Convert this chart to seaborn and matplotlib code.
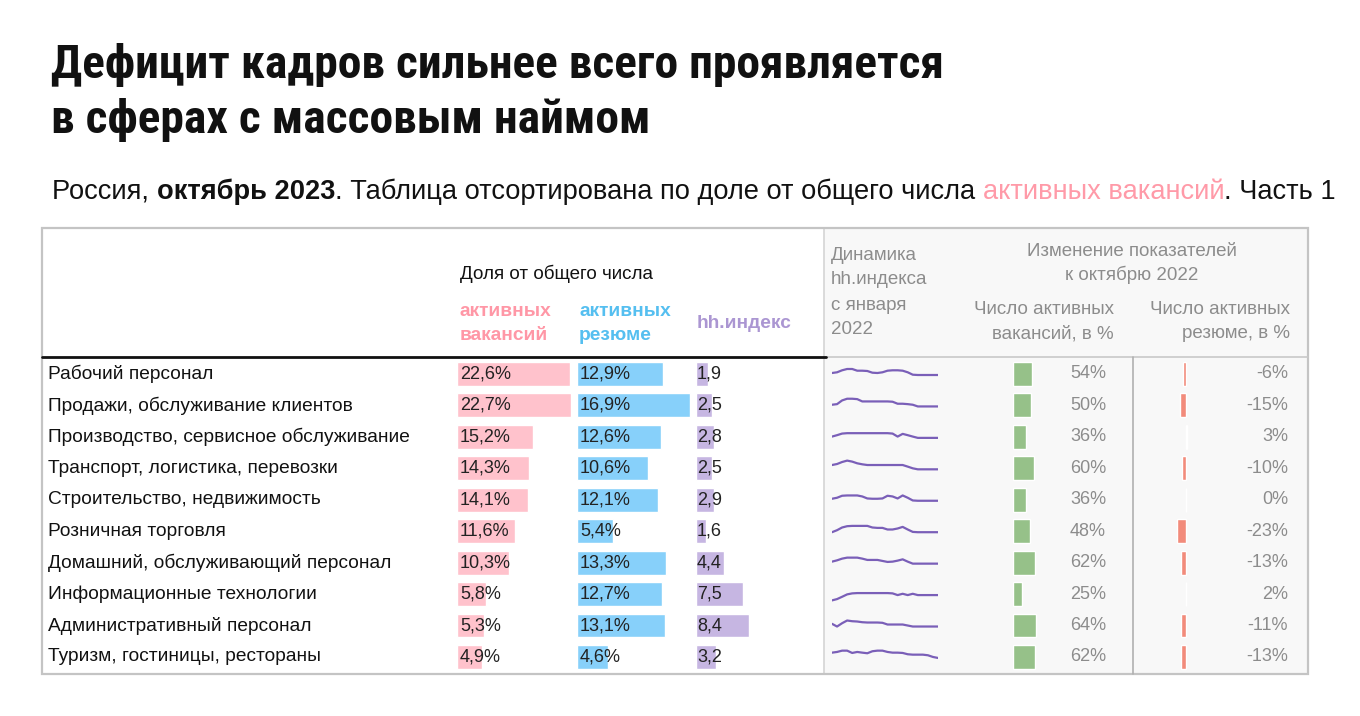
import numpy as np
import pandas as pd
import matplotlib
matplotlib.use('Agg')
import matplotlib.pyplot as plt
import seaborn as sns
from matplotlib.patches import Rectangle

# ---- data ----
sectors = ['Рабочий персонал', 'Продажи, обслуживание клиентов', 'Производство, сервисное обслуживание',
           'Транспорт, логистика, перевозки', 'Строительство, недвижимость', 'Розничная торговля',
           'Домашний, обслуживающий персонал', 'Информационные технологии', 'Административный персонал',
           'Туризм, гостиницы, рестораны']
vac_share = [22.6, 22.7, 15.2, 14.3, 14.1, 11.6, 10.3, 5.8, 5.3, 4.9]
res_share = [12.9, 16.9, 12.6, 10.6, 12.1, 5.4, 13.3, 12.7, 13.1, 4.6]
hh_index = [1.9, 2.5, 2.8, 2.5, 2.9, 1.6, 4.4, 7.5, 8.4, 3.2]
vac_change = [54, 50, 36, 60, 36, 48, 62, 25, 64, 62]
res_change = [-6, -15, 3, -10, 0, -23, -13, 2, -11, -13]

# hh.index trend Jan 2022 - Oct 2023, relative level
hh_trend = [
    [2, 2.7, 4.7, 6, 6, 4.3, 4.3, 4, 2.3, 2, 2.7, 4.3, 4.7, 4.7, 4.3, 2.7, 0.3, 0, 0, 0, 0, 0],
    [1.7, 2.3, 6, 7.7, 7.7, 7.3, 5, 5, 5, 5, 5, 5, 4.7, 2.7, 2.7, 2.3, 1.7, 0, 0, 0, 0, 0],
    [1.3, 2.7, 4.3, 4.7, 4.7, 4.7, 4.7, 4.7, 4.7, 4.7, 4.7, 4.7, 4.3, 1.3, 4, 2.7, 1.3, 0, 0, 0, 0, 0],
    [4.3, 5.3, 7.3, 8.7, 7.7, 6, 5, 4.3, 4.3, 4.3, 4.3, 4.3, 4.3, 4.3, 4.3, 2.7, 1, 0, 0, 0, 0, 0],
    [2, 3, 5, 5.3, 5.3, 5.3, 4.3, 2.3, 2, 2, 2.3, 5, 4.3, 2.3, 5.3, 3, 0.3, 0, 0, 0, 0, 0],
    [0, 2, 4.7, 6, 6.3, 6.3, 6.3, 6.3, 4.7, 4.3, 4.3, 2.7, 2.7, 3.7, 5.3, 2.7, 0.3, 0, 0, 0, 0, 0],
    [2, 3.3, 5, 6, 6, 6, 5, 3.7, 3.7, 3.7, 2.7, 1.7, 2, 3, 4.3, 2, 0, 0, 0, 0, 0, 0],
    [-5.3, -4, -1.7, 0.7, 1.7, 2, 2, 2, 2, 2, 2, 2, 1.7, 0, 1.3, 0, 1.3, 0, 0, 0, 0, 0],
    [2.7, 0, 3.3, 6, 5.3, 5, 4.3, 4, 4, 4, 3.7, 2, 2, 2, 2, 1, 0, 0, 0, 0, 0, 0],
    [5.3, 6, 7.3, 7.3, 5, 6, 5.3, 4.7, 6.7, 7.3, 7.3, 6, 5.3, 5.3, 5, 3.7, 3.3, 3.3, 3.3, 2.7, 1, 0],
]

df = pd.DataFrame({'sector': sectors, 'vac': vac_share, 'res': res_share, 'hh': hh_index,
                   'dvac': vac_change, 'dres': res_change})

# ---- layout ----
W, H = 1360, 716
ROW0, PITCH = 374, 31.44
TOP, BOT = ROW0 - PITCH / 2, ROW0 + 9.5 * PITCH
FONT = ['Liberation Sans', 'DejaVu Sans']
GRAY = '#8c8c8c'

sns.set_theme(style='white')
plt.rcParams['font.family'] = FONT

fig = plt.figure(figsize=(W / 100, H / 100), dpi=100)


def rect(x0, y0, x1, y1):
    return [x0 / W, 1 - y1 / H, (x1 - x0) / W, (y1 - y0) / H]


bg = fig.add_axes([0, 0, 1, 1], zorder=0)
bg.set_xlim(0, W)
bg.set_ylim(H, 0)
bg.axis('off')

# title
tfont = ['Roboto Condensed', 'Liberation Sans Narrow', 'Liberation Sans']
bg.text(51, 78, 'Дефицит кадров сильнее всего проявляется', fontsize=34.2, fontweight='bold',
        family=tfont, color='#111111', va='baseline')
bg.text(51, 133, 'в сферах с массовым наймом', fontsize=34.2, fontweight='bold',
        family=tfont, color='#111111', va='baseline')

# subtitle in coloured / bold pieces
pieces = [('Россия, ', 'normal', '#111111'), ('октябрь 2023', 'bold', '#111111'),
          ('. Таблица отсортирована по доле от общего числа ', 'normal', '#111111'),
          ('активных вакансий', 'normal', '#ff9aa8'), ('. Часть 1', 'normal', '#111111')]
renderer = fig.canvas.get_renderer()
x = 52
for txt, wt, col in pieces:
    t = bg.text(x, 199, txt, fontsize=19.6, fontweight=wt, color=col, va='baseline')
    x = t.get_window_extent(renderer).x1

# table frame
bg.add_patch(Rectangle((824, 228), 1308 - 824, 674 - 228, facecolor='#f8f8f8', edgecolor='#d4d4d4', lw=1.2))
bg.add_patch(Rectangle((42, 228), 1308 - 42, 674 - 228, facecolor='none', edgecolor='#c4c4c4', lw=1.6))
bg.plot([824, 1308], [357, 357], color='#c8c8c8', lw=1.2)
bg.plot([42, 826], [357, 357], color='#111111', lw=2)
bg.plot([1133, 1133], [357, 674], color='#b0b0b0', lw=1.2)

# header
hs = 13.5
bg.text(460, 274, 'Доля от общего числа', fontsize=hs, color='#111111', va='center')
for (xx, lines, col) in [(460, ['активных', 'вакансий'], '#ff97a6'), (579, ['активных', 'резюме'], '#55bff0')]:
    bg.text(xx, 312, lines[0], fontsize=13.8, fontweight='bold', color=col, va='center')
    bg.text(xx, 336, lines[1], fontsize=13.8, fontweight='bold', color=col, va='center')
bg.text(697, 324, 'hh.индекс', fontsize=13.8, fontweight='bold', color='#ab96d2', va='center')
for k, line in enumerate(['Динамика', 'hh.индекса', 'с января', '2022']):
    bg.text(831, 255 + 25 * k, line, fontsize=hs, color=GRAY, va='center')
bg.text(1132, 251, 'Изменение показателей', fontsize=hs, color=GRAY, va='center', ha='center')
bg.text(1132, 275, 'к октябрю 2022', fontsize=hs, color=GRAY, va='center', ha='center')
bg.text(1114, 310, 'Число активных', fontsize=hs, color=GRAY, va='center', ha='right')
bg.text(1114, 334, 'вакансий, в %', fontsize=hs, color=GRAY, va='center', ha='right')
bg.text(1290, 310, 'Число активных', fontsize=hs, color=GRAY, va='center', ha='right')
bg.text(1290, 334, 'резюме, в %', fontsize=hs, color=GRAY, va='center', ha='right')

# sector names
for i, s in enumerate(sectors):
    bg.text(48, ROW0 + i * PITCH, s, fontsize=13.8, color='#111111', va='center')


def fmt(v, pct=True):
    s = f'{v:.1f}'.replace('.', ',')
    return s + '%' if pct else s


def bar_col(x0, x1, xlim, col, color):
    ax = fig.add_axes(rect(x0, TOP, x1, BOT), zorder=2)
    sns.barplot(data=df, x=col, y='sector', orient='h', color=color, saturation=1,
                width=0.76, ax=ax)
    ax.set_xlim(*xlim)
    ax.set_ylim(9.5, -0.5)
    ax.axis('off')
    return ax


ax_v = bar_col(457, 582, (0, 25), 'vac', '#ffc2cc')
ax_r = bar_col(577, 697.6, (0, 18), 'res', '#87d0fa')
ax_h = bar_col(696, 759, (0, 10), 'hh', '#c6b6e2')
ax_g = bar_col(1013, 1048.5, (0, 100), 'dvac', '#96c189')
ax_n = bar_col(1174, 1197.4, (-30, 30), 'dres', '#f28b7b')

for i in range(len(sectors)):
    ax_v.annotate(fmt(vac_share[i]), (0, i), xytext=(3, 0), textcoords='offset pixels',
                  fontsize=13, color='#222222', va='center')
    ax_r.annotate(fmt(res_share[i]), (0, i), xytext=(3, 0), textcoords='offset pixels',
                  fontsize=13, color='#222222', va='center')
    ax_h.annotate(fmt(hh_index[i], False), (0, i), xytext=(1, 0), textcoords='offset pixels',
                  fontsize=13, color='#222222', va='center')
    ax_g.annotate(f'{vac_change[i]}%', (1, i), xycoords=ax_g.get_yaxis_transform(),
                  xytext=(57.5, 0), textcoords='offset pixels', fontsize=13, color=GRAY,
                  va='center', ha='right')
    ax_n.annotate(f'{res_change[i]}%', (1, i), xycoords=ax_n.get_yaxis_transform(),
                  xytext=(90.6, 0), textcoords='offset pixels', fontsize=13, color=GRAY,
                  va='center', ha='right')

# sparklines
for i, tr in enumerate(hh_trend):
    y0 = TOP + i * PITCH
    ax = fig.add_axes(rect(832, y0, 938, y0 + PITCH), zorder=2)
    sns.lineplot(x=np.arange(len(tr)), y=tr, ax=ax, color='#7a5fb8', lw=1.6)
    ax.set_xlim(0, len(tr) - 1)
    ax.set_ylim(-14.7, 16.7)
    ax.axis('off')

fig.savefig('out.png', dpi=100)
